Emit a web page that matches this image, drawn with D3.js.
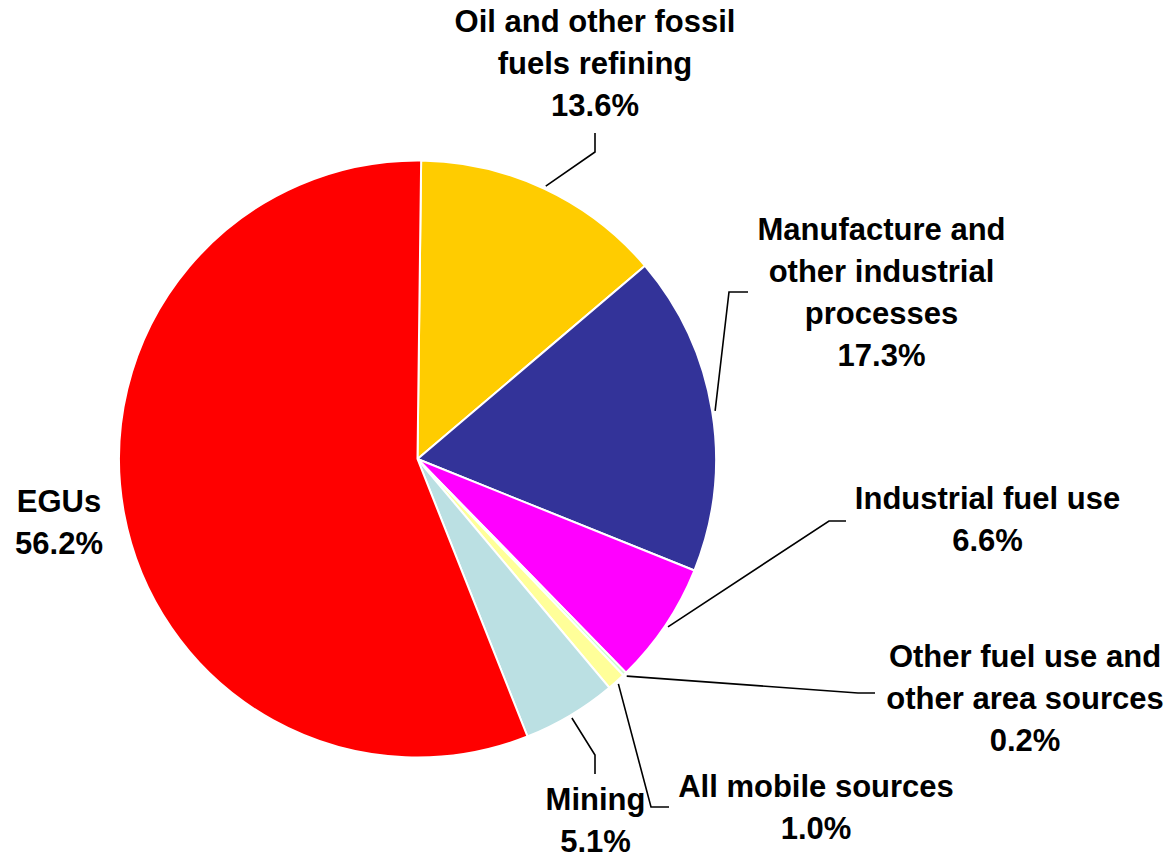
<!DOCTYPE html>
<html>
<head>
<meta charset="utf-8">
<script src="https://cdn.jsdelivr.net/npm/d3@7"></script>
<style>
  html, body { margin: 0; padding: 0; background: #fff; }
  svg { display: block; }
  .lbl { font-family: "Liberation Sans", Arial, sans-serif; font-weight: bold; font-size: 31px; fill: #000; }
</style>
</head>
<body>
<svg id="chart" width="1173" height="858"></svg>
<script>
// Source categories, in clockwise order from the top
const categories = [
  "Oil and other fossil fuels refining",
  "Manufacture and other industrial processes",
  "Industrial fuel use",
  "Other fuel use and other area sources",
  "All mobile sources",
  "Mining",
  "EGUs"
];
// Share of total (%)
const shares = [13.6, 17.3, 6.6, 0.2, 1.0, 5.1, 56.2];
// Label text, one entry per line
const labelLines = [
  ["Oil and other fossil", "fuels refining", "13.6%"],
  ["Manufacture and", "other industrial", "processes", "17.3%"],
  ["Industrial fuel use", "6.6%"],
  ["Other fuel use and", "other area sources", "0.2%"],
  ["All mobile sources", "1.0%"],
  ["Mining", "5.1%"],
  ["EGUs", "56.2%"]
];
const sliceColors = ["#FFCC00", "#333399", "#FF00FF", "#CCFFCC", "#FFFF99", "#BBE0E3", "#FF0000"];

const svg = d3.select("#chart");
const cx = 417.5, cy = 459, radius = 298.5;
const startAngle = 0.7 * Math.PI / 180;

const color = d3.scaleOrdinal().domain(categories).range(sliceColors);

const pie = d3.pie()
  .sort(null)
  .value(d => d.value)
  .startAngle(startAngle)
  .endAngle(startAngle + 2 * Math.PI);

const data = categories.map((c, i) => ({ name: c, value: shares[i], lines: labelLines[i] }));
const arcs = pie(data);

const arc = d3.arc().innerRadius(0).outerRadius(radius);

const g = svg.append("g").attr("transform", `translate(${cx},${cy})`);

g.selectAll("path.slice")
  .data(arcs)
  .join("path")
  .attr("class", "slice")
  .attr("d", arc)
  .attr("fill", d => color(d.data.name))
  .attr("stroke", "#fff")
  .attr("stroke-width", 2)
  .attr("stroke-linejoin", "round");

// Label layout: text centre x, first baseline, leader elbow and end (absolute page coords)
const layout = {
  "Oil and other fossil fuels refining":        { x: 595,   y: 32,  elbow: [595, 152], end: [595, 133] },
  "Manufacture and other industrial processes": { x: 881.5, y: 240, elbow: [729, 292], end: [748, 292] },
  "Industrial fuel use":                        { x: 987.5, y: 509, elbow: [829, 521], end: [846, 521] },
  "Other fuel use and other area sources":      { x: 1025,  y: 667, elbow: [858, 693], end: [875, 693] },
  "All mobile sources":                         { x: 816,   y: 797, elbow: [651, 807], end: [669, 807] },
  "Mining":                                     { x: 595.5, y: 810, elbow: [595, 755], end: [595, 774] },
  "EGUs":                                       { x: 59,    y: 512, elbow: null, end: null }
};
const lineStep = 42;

// Leader lines start just outside the rim at each slice's mid-angle
const leaders = arcs.filter(d => layout[d.data.name].elbow);

svg.selectAll("polyline.leader")
  .data(leaders)
  .join("polyline")
  .attr("class", "leader")
  .attr("fill", "none")
  .attr("stroke", "#000")
  .attr("stroke-width", 1.6)
  .attr("points", d => {
    const mid = (d.startAngle + d.endAngle) / 2;
    const p = [cx + (radius + 3) * Math.sin(mid), cy - (radius + 3) * Math.cos(mid)];
    const L = layout[d.data.name];
    return [p, L.elbow, L.end].map(q => q.join(",")).join(" ");
  });

const labels = svg.selectAll("text.lbl")
  .data(arcs)
  .join("text")
  .attr("class", "lbl")
  .attr("text-anchor", "middle")
  .attr("x", d => layout[d.data.name].x)
  .attr("y", d => layout[d.data.name].y);

labels.selectAll("tspan")
  .data(d => d.data.lines.map(t => ({ t, x: layout[d.data.name].x })))
  .join("tspan")
  .attr("x", d => d.x)
  .attr("dy", (d, i) => i === 0 ? 0 : lineStep)
  .text(d => d.t);
</script>
</body>
</html>
